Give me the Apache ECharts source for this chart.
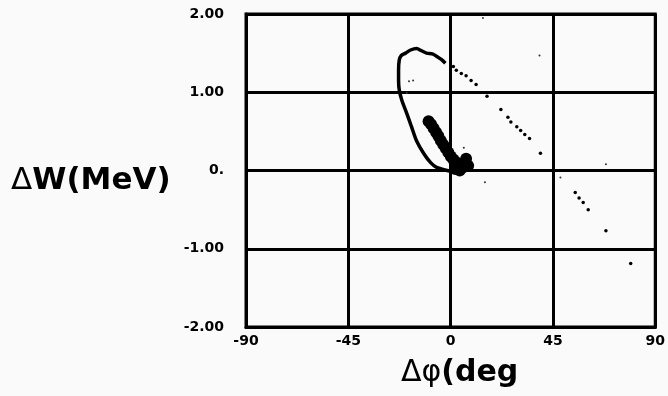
<!DOCTYPE html>
<html>
<head>
<meta charset="utf-8">
<script src="https://cdn.jsdelivr.net/npm/echarts@6/dist/echarts.min.js"></script>
<style>
html,body{margin:0;padding:0;background:#fafafa;}
#chart{width:668px;height:396px;}
</style>
</head>
<body>
<div id="chart"></div>
<script>
// Tick labels
var xTickLabels = ['-90', '-45', '0', '45', '90'];
var yTickLabels = ['-2.00', '-1.00', '0.', '1.00', '2.00'];
var yTickValues = [-2, -1, 0, 1, 2];

// Solid part of the phase-space loop [Δφ (deg), ΔW (MeV)]
var loopPoints = [
  [0, -0.01], [-6.2, 0.04], [-8.8, 0.10], [-11.9, 0.22], [-15.0, 0.38],
  [-17.1, 0.55], [-19.3, 0.73], [-21.5, 0.90], [-22.6, 1.03], [-22.9, 1.15],
  [-22.9, 1.28], [-22.6, 1.41], [-21.7, 1.47], [-19.8, 1.50], [-17.6, 1.54],
  [-15.0, 1.56], [-12.8, 1.53], [-10.6, 1.50], [-8.0, 1.49], [-6.2, 1.46],
  [-4.1, 1.42], [-2.3, 1.37]
];

// Dense core of the bunch
var corePoints = [
  [-9.7, 0.63], [-8.6, 0.59], [-7.5, 0.54], [-6.4, 0.49], [-5.4, 0.44],
  [-4.3, 0.38], [-3.2, 0.33], [-2.1, 0.28], [-1.0, 0.23], [0.1, 0.18],
  [1.2, 0.14], [2.3, 0.11], [3.4, 0.08], [4.4, 0.06], [5.5, 0.04],
  [7.7, 0.06], [6.8, 0.15], [2.0, 0.02], [4.0, 0.00]
];

// Sparse particles trailing away from the loop
var tailPoints = [
  [1.2, 1.33], [2.5, 1.28], [4.7, 1.24], [6.8, 1.21], [9.0, 1.15],
  [11.2, 1.10], [16.0, 0.95], [22.1, 0.78], [25.2, 0.68], [26.5, 0.62],
  [29.1, 0.56], [30.8, 0.51], [32.6, 0.46], [34.7, 0.41], [39.5, 0.22],
  [54.8, -0.28], [56.5, -0.35], [58.3, -0.41], [60.5, -0.50], [68.3, -0.77],
  [79.2, -1.19]
];

// Faint stray particles
var strayPoints = [
  [39.1, 1.47], [68.3, 0.08], [48.3, -0.09], [15.1, -0.15], [14.2, 1.95],
  [-18.3, 1.14], [-16.5, 1.15], [-19.3, 0.99], [5.8, 0.29]
];

var chart = echarts.init(document.getElementById('chart'), null, {renderer: 'canvas'});
var tickFont = {fontFamily: 'DejaVu Sans', fontWeight: 'bold', fontSize: 14, color: '#000'};

chart.setOption({
  animation: false,
  backgroundColor: '#fafafa',
  grid: {left: 246, right: 11, top: 14, bottom: 69, show: true, borderColor: '#000', borderWidth: 3, backgroundColor: 'transparent'},
  xAxis: {
    type: 'value', min: -90, max: 90, interval: 45,
    axisLine: {show: true, onZero: false, lineStyle: {color: '#000', width: 3}},
    axisTick: {show: false},
    splitLine: {show: true, lineStyle: {color: '#000', width: 3}},
    axisLabel: Object.assign({margin: 7, formatter: function (v) {
      var i = Math.round((v + 90) / 45); return xTickLabels[i] !== undefined ? xTickLabels[i] : '';
    }}, tickFont)
  },
  yAxis: {
    type: 'value', min: -2, max: 2, interval: 1,
    axisLine: {show: true, onZero: false, lineStyle: {color: '#000', width: 3}},
    axisTick: {show: false},
    splitLine: {show: true, lineStyle: {color: '#000', width: 3}},
    axisLabel: Object.assign({margin: 22, formatter: function (v) {
      var i = yTickValues.indexOf(Math.round(v)); return i >= 0 ? yTickLabels[i] : '';
    }}, tickFont)
  },
  graphic: [
    {
      type: 'text', left: 11, top: 165,
      style: {
        text: '{d|Δ}{b|W(MeV)}',
        fill: '#000',
        rich: {
          d: {fontFamily: 'DejaVu Sans', fontWeight: 'normal', fontSize: 31, fill: '#000'},
          b: {fontFamily: 'DejaVu Sans', fontWeight: 'bold', fontSize: 31, fill: '#000'}
        }
      }
    },
    {
      type: 'text', left: 401, top: 358,
      style: {
        text: '{d|Δφ}{b|(deg}',
        fill: '#000',
        rich: {
          d: {fontFamily: 'DejaVu Sans', fontWeight: 'normal', fontSize: 30, fill: '#000'},
          b: {fontFamily: 'DejaVu Sans', fontWeight: 'bold', fontSize: 30, fill: '#000'}
        }
      }
    }
  ],
  series: [
    {
      name: 'loop', type: 'line', data: loopPoints, smooth: 0.3, showSymbol: false,
      lineStyle: {color: '#000', width: 3.5, opacity: 1}, silent: true, z: 3
    },
    {
      name: 'core', type: 'scatter', data: corePoints, symbolSize: 12,
      itemStyle: {color: '#000', opacity: 1}, silent: true, z: 4
    },
    {
      name: 'tail', type: 'scatter', data: tailPoints, symbolSize: 3.5,
      itemStyle: {color: '#000', opacity: 1}, silent: true, z: 4
    },
    {
      name: 'stray', type: 'scatter', data: strayPoints, symbolSize: 2,
      itemStyle: {color: '#333', opacity: 1}, silent: true, z: 4
    }
  ]
});
</script>
</body>
</html>
